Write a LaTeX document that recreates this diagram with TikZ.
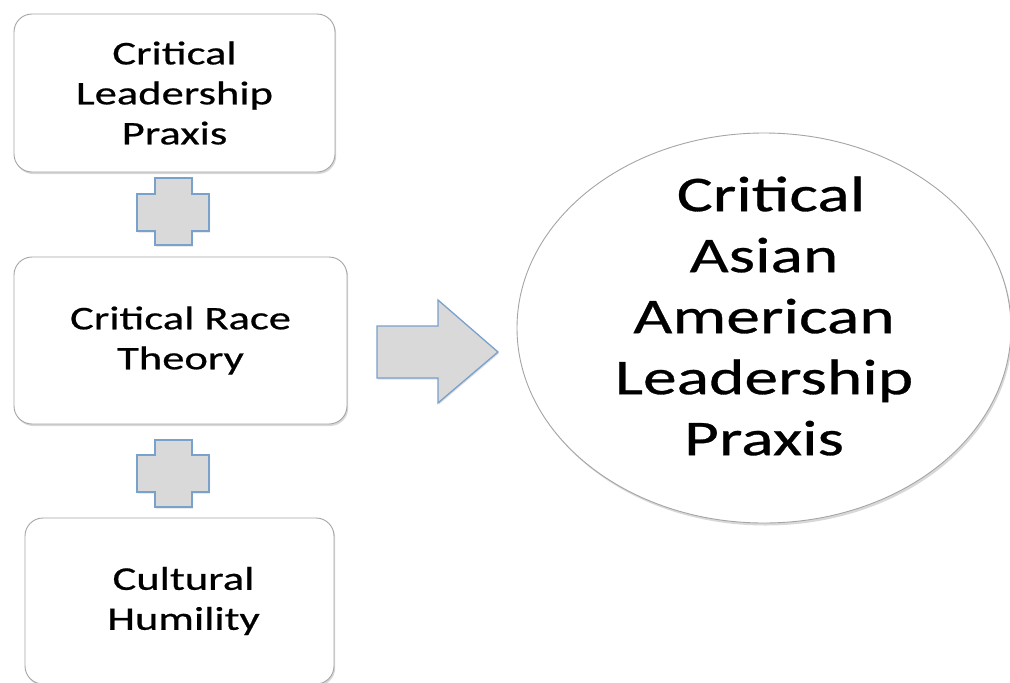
\documentclass[tikz,border=0pt]{standalone}
\usepackage{fontspec}
\setmainfont{Carlito}[FakeStretch=1.35,FakeBold=0.6]
\usetikzlibrary{shapes.geometric,shadows}
\definecolor{boxgray}{RGB}{165,165,165}
\definecolor{plusfill}{RGB}{217,217,217}
\definecolor{plusdraw}{RGB}{122,160,204}
\begin{document}
\begin{tikzpicture}[x=1pt,y=1pt,
  boxnode/.style={draw=boxgray, line width=0.9pt, fill=white, rounded corners=18pt,
    inner sep=0pt, align=center, font=\fontsize{33}{40}\selectfont,
    drop shadow={opacity=0.3, shadow xshift=1.2pt, shadow yshift=-2pt}},
  blockshape/.style={draw=plusdraw, line width=1.3pt, fill=plusfill, line join=miter,
    drop shadow={opacity=0.25, shadow xshift=1pt, shadow yshift=-1.5pt}},
  ellnode/.style={ellipse, draw=boxgray, line width=0.9pt, fill=white, inner sep=0pt,
    drop shadow={opacity=0.3, shadow xshift=1.5pt, shadow yshift=-2.5pt}},
  bigtext/.style={align=center, font=\fontsize{50}{61}\selectfont, inner sep=0pt}]
\useasboundingbox (0,0) rectangle (1010,-683);
\clip (0,0) rectangle (1010,-683);
\fill[white] (0,0) rectangle (1010,-683);

% boxes
\node[boxnode, minimum width=321pt, minimum height=158pt] (clp) at (174.5,-93)
  {Critical\\Leadership\\Praxis};
\node[boxnode, minimum width=333pt, minimum height=167pt] (crt) at (180.5,-340.5)
  {Critical Race\\Theory};
\node[boxnode, minimum width=309pt, minimum height=166pt] (ch) at (179.5,-601)
  {\hspace*{8pt}Cultural\\\hspace*{8pt}Humility};

% plus signs
\path[blockshape] (155,-178) -- (192,-178) -- (192,-194) -- (209,-194) -- (209,-231)
  -- (192,-231) -- (192,-245) -- (155,-245) -- (155,-231) -- (137,-231)
  -- (137,-194) -- (155,-194) -- cycle;
\path[blockshape] (155,-440) -- (192,-440) -- (192,-455) -- (209,-455) -- (209,-492)
  -- (192,-492) -- (192,-507) -- (155,-507) -- (155,-492) -- (137,-492)
  -- (137,-455) -- (155,-455) -- cycle;

% block arrow
\path[blockshape] (377,-326) -- (438,-326) -- (438,-300) -- (498,-352)
  -- (438,-403) -- (438,-378) -- (377,-378) -- cycle;

% ellipse
\node[ellnode, minimum width=494pt, minimum height=390pt] (caalp) at (764,-328) {};
\node[bigtext] (caalptext) at (764,-316)
  {\hspace*{14pt}Critical\\Asian\\American\\Leadership\\Praxis};
\end{tikzpicture}
\end{document}
